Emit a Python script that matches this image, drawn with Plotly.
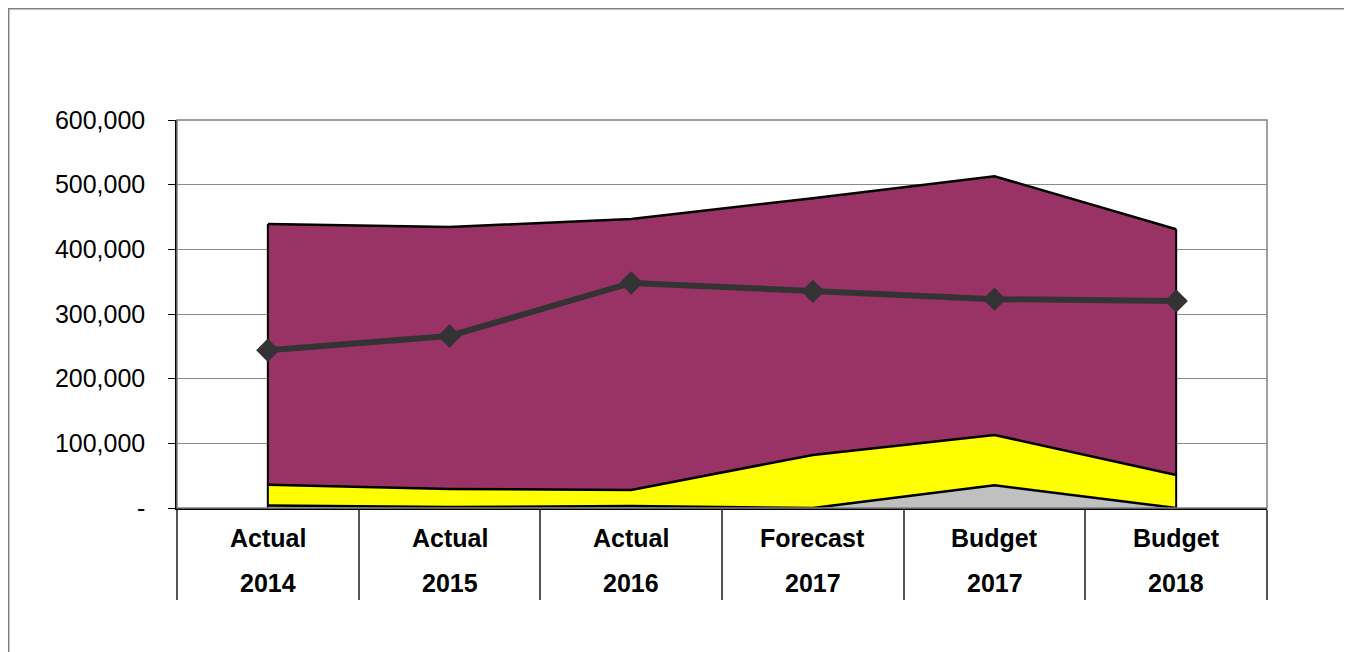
import plotly.graph_objects as go

categories = ["Actual 2014", "Actual 2015", "Actual 2016", "Forecast 2017", "Budget 2017", "Budget 2018"]
row1_labels = ["Actual", "Actual", "Actual", "Forecast", "Budget", "Budget"]
row2_labels = ["2014", "2015", "2016", "2017", "2017", "2018"]

gray_vals = [4000, 1500, 3000, 0, 35000, 0]
yellow_vals = [32000, 28000, 25000, 82000, 78000, 51000]
maroon_vals = [403000, 405000, 419000, 397000, 400000, 380000]
line_vals = [244000, 266000, 348000, 335000, 323000, 320000]

y_tickvals = [0, 100000, 200000, 300000, 400000, 500000, 600000]
y_ticktext = ["-", "100,000", "200,000", "300,000", "400,000", "500,000", "600,000"]

FONT = "Liberation Sans, Arial, sans-serif"

fig = go.Figure()
for name, vals, col in [("Other", gray_vals, "#C0C0C0"),
                        ("Secondary", yellow_vals, "#FFFF00"),
                        ("Main", maroon_vals, "#993366")]:
    fig.add_trace(go.Scatter(x=categories, y=vals, name=name, stackgroup="one",
                             mode="lines", line=dict(color="#000000", width=2.5),
                             fillcolor=col, hoverinfo="skip"))

# vertical edges of the stacked area at first and last category
totals = [g + y + m for g, y, m in zip(gray_vals, yellow_vals, maroon_vals)]
for idx in (0, len(categories) - 1):
    fig.add_trace(go.Scatter(x=[categories[idx], categories[idx]], y=[0, totals[idx]],
                             mode="lines", line=dict(color="#000000", width=2),
                             showlegend=False, hoverinfo="skip"))

fig.add_trace(go.Scatter(x=categories, y=line_vals, name="Total", mode="lines+markers",
                         line=dict(color="#333333", width=6),
                         marker=dict(symbol="diamond", size=18, color="#333333")))

for i in range(len(categories)):
    fig.add_annotation(x=categories[i], y=-0.0773, xref="x", yref="paper",
                       text="<b>%s</b>" % row1_labels[i], showarrow=False,
                       yanchor="middle", font=dict(family=FONT, size=25, color="#000000"))
    fig.add_annotation(x=categories[i], y=-0.193, xref="x", yref="paper",
                       text="<b>%s</b>" % row2_labels[i], showarrow=False,
                       yanchor="middle", font=dict(family=FONT, size=25, color="#000000"))

# plot area border (top/right gray)
fig.add_shape(type="rect", xref="paper", yref="paper", x0=0, x1=1, y0=0, y1=1,
              line=dict(color="#808080", width=1.5), layer="above")
# outer chart border
fig.add_shape(type="rect", xref="paper", yref="paper", x0=-0.1544, x1=1.0716,
              y0=-0.45, y1=1.2867, line=dict(color="#808080", width=1.5))

fig.update_layout(
    width=1352, height=652,
    margin=dict(l=169, r=93, t=112, b=152),
    plot_bgcolor="#FFFFFF", paper_bgcolor="#FFFFFF",
    showlegend=False,
    font=dict(family=FONT, size=25, color="#000000"),
    xaxis=dict(type="category", range=[-0.5, 5.5], showticklabels=False,
               ticks="outside", tickson="boundaries", ticklen=90,
               tickcolor="#555555", tickwidth=1.5,
               showline=True, linecolor="#000000", linewidth=2,
               showgrid=False, zeroline=False, fixedrange=True),
    yaxis=dict(range=[0, 600000], tickvals=y_tickvals, ticktext=y_ticktext,
               ticks="outside", ticklen=7, tickcolor="#000000",
               showline=True, linecolor="#000000", linewidth=1.5,
               showgrid=True, gridcolor="#8C8C8C", gridwidth=1,
               zeroline=False, ticklabelstandoff=18,
               tickfont=dict(family=FONT, size=25, color="#000000")),
)

fig.write_html("out.html")
